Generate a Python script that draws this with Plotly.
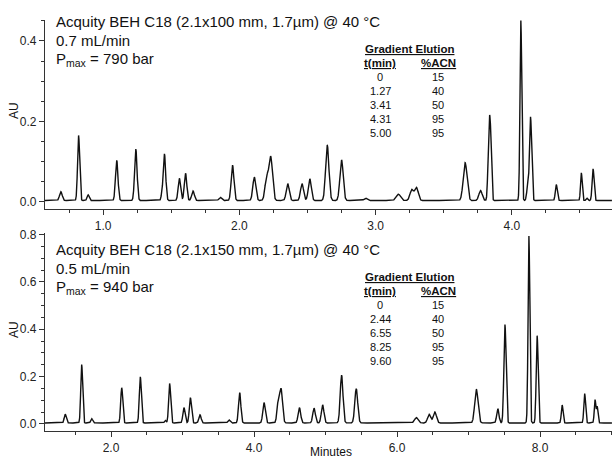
import numpy as np
import plotly.graph_objects as go
from plotly.subplots import make_subplots

# ---- data: peak retention times (min), heights (AU above baseline), widths (sigma, min)
top_times = [0.69, 0.82, 0.89, 1.10, 1.24, 1.43, 1.45, 1.56, 1.605, 1.66, 1.86, 1.95, 2.11, 2.20, 2.23,
             2.355, 2.46, 2.517, 2.645, 2.75, 2.926, 3.167, 3.265, 3.30, 3.657, 3.77, 3.831, 3.843,
             4.066, 4.115, 4.137, 4.326, 4.51, 4.55, 4.596]
top_heights = [0.022, 0.162, 0.014, 0.100, 0.128, 0.010, 0.116, 0.055, 0.068, 0.024, 0.008, 0.088, 0.058,
               0.055, 0.108, 0.042, 0.042, 0.054, 0.138, 0.101, 0.006, 0.016, 0.027, 0.032, 0.094, 0.025,
               0.155, 0.152, 0.448, 0.030, 0.208, 0.040, 0.069, 0.006, 0.079]
top_widths = [0.010, 0.0075, 0.0075, 0.009, 0.009, 0.006, 0.009, 0.009, 0.009, 0.010, 0.010, 0.010, 0.011,
              0.012, 0.013, 0.011, 0.011, 0.011, 0.012, 0.012, 0.012, 0.016, 0.013, 0.013, 0.014, 0.012,
              0.007, 0.007, 0.0065, 0.007, 0.008, 0.007, 0.006, 0.006, 0.007]

bot_times = [1.36, 1.59, 1.73, 2.15, 2.41, 2.76, 2.82, 3.02, 3.11, 3.245, 3.65, 3.80, 4.14, 4.34, 4.38,
             4.635, 4.84, 4.96, 5.225, 5.43, 6.27, 6.45, 6.53, 7.11, 7.41, 7.51, 7.845, 7.96, 8.31,
             8.625, 8.77, 8.80]
bot_heights = [0.037, 0.247, 0.018, 0.149, 0.195, 0.011, 0.167, 0.065, 0.107, 0.034, 0.013, 0.128, 0.086,
               0.088, 0.138, 0.065, 0.062, 0.076, 0.202, 0.145, 0.023, 0.037, 0.046, 0.142, 0.060, 0.416,
               0.790, 0.369, 0.076, 0.124, 0.098, 0.068]
bot_widths = [0.014, 0.013, 0.013, 0.014, 0.014, 0.012, 0.014, 0.015, 0.015, 0.016, 0.016, 0.016, 0.017,
              0.018, 0.019, 0.018, 0.018, 0.018, 0.019, 0.020, 0.025, 0.022, 0.022, 0.023, 0.016, 0.015,
              0.012, 0.013, 0.012, 0.012, 0.011, 0.010]

top_baseline = 0.003
bot_baseline = 0.004

top_info = ["Acquity BEH C18 (2.1x100 mm, 1.7µm) @ 40 °C", "0.7 mL/min", "P<sub>max</sub> = 790 bar"]
bot_info = ["Acquity BEH C18 (2.1x150 mm, 1.7µm) @ 40 °C", "0.5 mL/min", "P<sub>max</sub> = 940 bar"]

top_grad_t = ["0", "1.27", "3.41", "4.31", "5.00"]
top_grad_acn = ["15", "40", "50", "95", "95"]
bot_grad_t = ["0", "2.44", "6.55", "8.25", "9.60"]
bot_grad_acn = ["15", "40", "50", "95", "95"]

top_xrange = [0.5735, 4.735]
top_yrange = [-0.018, 0.452]
bot_xrange = [1.077, 9.007]
bot_yrange = [-0.03, 0.807]


def chromatogram(x, times, heights, widths, base):
    y = np.full_like(x, base)
    for t, h, s in zip(times, heights, widths):
        y += h * np.exp(-0.5 * ((x - t) / s) ** 2)
    return y


xt = np.arange(top_xrange[0], top_xrange[1], 0.0005)
yt = chromatogram(xt, top_times, top_heights, top_widths, top_baseline)
xb = np.arange(bot_xrange[0], bot_xrange[1], 0.001)
yb = chromatogram(xb, bot_times, bot_heights, bot_widths, bot_baseline)

W, H = 612, 458
ml, mr, mt, mb = 45, 0, 20, 27
pw, ph = W - ml - mr, H - mt - mb

def px(x):
    return (x - ml) / pw

def py(y):
    return (H - mb - y) / ph

fig = make_subplots(rows=2, cols=1)
fig.add_trace(go.Scatter(x=xt, y=yt, mode="lines", line=dict(color="#111111", width=1.4),
                         hoverinfo="skip", showlegend=False), row=1, col=1)
fig.add_trace(go.Scatter(x=xb, y=yb, mode="lines", line=dict(color="#111111", width=1.4),
                         hoverinfo="skip", showlegend=False), row=2, col=1)

FONT = "Arial, Liberation Sans, sans-serif"
axis_common = dict(showgrid=False, zeroline=False, showline=True, linecolor="#333333", linewidth=1.3,
                   ticks="outside", ticklen=5, tickwidth=1, tickcolor="#333333",
                   tickfont=dict(family=FONT, size=12, color="#222222"), tickformat=".1f")

fig.update_layout(
    width=W, height=H, margin=dict(l=ml, r=mr, t=mt, b=mb),
    paper_bgcolor="white", plot_bgcolor="white",
    xaxis=dict(domain=[0, 1], range=top_xrange, tick0=1.0, dtick=1.0,
               minor=dict(dtick=0.25, ticks="outside", ticklen=3, tickcolor="#333333"), **axis_common),
    yaxis=dict(domain=[py(209), 1], range=top_yrange, tick0=0, dtick=0.2,
               minor=dict(dtick=0.05, ticks="outside", ticklen=3, tickcolor="#333333"), **axis_common),
    xaxis2=dict(domain=[0, 1], range=bot_xrange, tick0=0, dtick=2.0,
                minor=dict(dtick=0.5, ticks="outside", ticklen=3, tickcolor="#333333"), **axis_common),
    yaxis2=dict(domain=[0, py(233)], range=bot_yrange, tick0=0, dtick=0.2,
                minor=dict(dtick=0.05, ticks="outside", ticklen=3, tickcolor="#333333"), **axis_common),
)

ann = []

def text(x, y, s, size=15, xanchor="left"):
    ann.append(dict(x=px(x), y=py(y), xref="paper", yref="paper", text=s, showarrow=False,
                    xanchor=xanchor, yanchor="middle",
                    font=dict(family=FONT, size=size, color="#111111")))

# info blocks
for i, s in enumerate(top_info):
    text(54, 22 + 18.5 * i, s)
for i, s in enumerate(bot_info):
    text(54, 249 + 19 * i, s)

# gradient tables
def table(y0, tvals, avals):
    text(409, y0, "<b><u>Gradient Elution</u></b>", size=11.5, xanchor="center")
    text(380, y0 + 14, "<b><u>t(min)</u></b>", size=11.5, xanchor="center")
    text(438, y0 + 14, "<b><u>%ACN</u></b>", size=11.5, xanchor="center")
    for i, (tv, av) in enumerate(zip(tvals, avals)):
        text(380, y0 + 28 + 14 * i, tv, size=11, xanchor="center")
        text(438, y0 + 28 + 14 * i, av, size=11, xanchor="center")

table(49, top_grad_t, top_grad_acn)
table(277, bot_grad_t, bot_grad_acn)

# axis titles
for yy in (111, 330):
    ann.append(dict(x=px(14), y=py(yy), xref="paper", yref="paper", text="AU", showarrow=False,
                    textangle=-90, xanchor="center", yanchor="middle",
                    font=dict(family=FONT, size=12, color="#111111")))
ann.append(dict(x=px(331), y=py(452), xref="paper", yref="paper", text="Minutes", showarrow=False,
                xanchor="center", yanchor="middle", font=dict(family=FONT, size=12, color="#111111")))

fig.update_layout(annotations=ann)
fig.write_html("out.html", config={"displayModeBar": False},
               post_script="document.body.style.margin='0';document.body.style.overflow='hidden';")
